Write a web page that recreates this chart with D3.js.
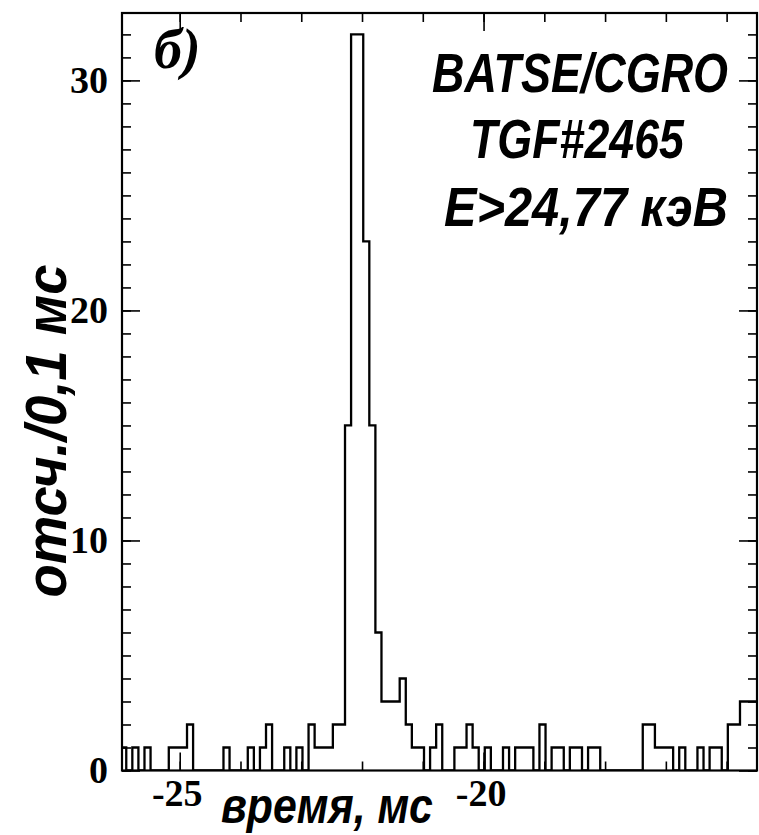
<!DOCTYPE html>
<html>
<head>
<meta charset="utf-8">
<script src="https://cdn.jsdelivr.net/npm/d3@7"></script>
<style>
  html, body { margin: 0; padding: 0; background: #fff; }
  svg { display: block; }
</style>
</head>
<body>
<svg id="chart" width="759" height="835"></svg>
<script>
// Histogram: counts per 0.1 ms bin, first bin starting at binStart (ms)
const binStart = -25.98;
const binWidth = 0.1;
const counts = [
  1, 0, 1, 0, 1, 0, 0, 0, 1, 1,
  1, 2, 0, 0, 0, 0, 0, 1, 0, 0,
  0, 1, 0, 1, 2, 0, 0, 1, 0, 1,
  0, 2, 1, 1, 1, 2, 2, 15, 32, 32,
  23, 15, 6, 3, 3, 3, 4, 2, 1, 1,
  0, 1, 2, 0, 0, 1, 1, 2, 1, 0,
  1, 0, 0, 1, 0, 1, 1, 1, 0, 2,
  0, 1, 1, 0, 1, 1, 0, 1, 1, 0,
  0, 0, 0, 0, 0, 0, 2, 2, 1, 1,
  1, 0, 1, 0, 0, 1, 0, 1, 1, 0,
  2, 2, 3, 3, 3
];

// Axis ticks
const xMinorTicks = [-25, -24, -23, -22, -21, -20, -19, -18, -17, -16];
const xMajorTicks = [-25, -20];
const yMinorTicks = d3.range(0, 33);
const yMajorTicks = [0, 10, 20, 30];

// Texts
const panelLabel = "б)";
const infoLines = ["BATSE/CGRO", "TGF#2465", "E>24,77 кэВ"];
const xTitle = "время, мс";
const yTitle = "отсч./0,1 мс";

const svg = d3.select("#chart");
const plot = { left: 122, right: 757, top: 13, bottom: 770.5 };

const x = d3.scaleLinear().domain([-25.95, -15.5]).range([plot.left, plot.right]);
const y = d3.scaleLinear().domain([0, 32.93]).range([plot.bottom, plot.top]);

svg.append("defs").append("clipPath").attr("id", "plotClip")
  .append("rect")
  .attr("x", plot.left).attr("y", plot.top - 2)
  .attr("width", plot.right - plot.left).attr("height", plot.bottom - plot.top + 2);

// Step outline of the histogram
const binEnd = binStart + binWidth * counts.length;
const pts = [[binStart, 0]];
counts.forEach((c, i) => pts.push([binStart + i * binWidth, c]));
pts.push([binEnd, counts[counts.length - 1]]);
pts.push([binEnd, 0]);

const line = d3.line()
  .x(d => x(d[0]))
  .y(d => y(d[1]))
  .curve(d3.curveStepAfter);

svg.append("path")
  .attr("clip-path", "url(#plotClip)")
  .attr("d", line(pts))
  .attr("fill", "none")
  .attr("stroke", "#000")
  .attr("stroke-width", 2.3)
  .attr("stroke-linejoin", "miter");

// Axes (inward ticks on all four sides)
function styleAxis(g) {
  g.select(".domain").remove();
  g.selectAll(".tick line").attr("stroke", "#000").attr("stroke-width", 1.6);
  g.selectAll(".tick text")
    .attr("fill", "#000")
    .attr("font-family", "'Liberation Serif', 'Times New Roman', serif")
    .attr("font-weight", "bold")
    .attr("font-size", 38);
}

svg.append("g").attr("transform", `translate(0,${plot.bottom})`)
  .call(d3.axisBottom(x).tickValues(xMinorTicks).tickSize(-9).tickFormat(""))
  .call(styleAxis);
svg.append("g").attr("transform", `translate(0,${plot.bottom})`)
  .call(d3.axisBottom(x).tickValues(xMajorTicks).tickSize(-18).tickPadding(9)
    .tickFormat(d => String(d)))
  .call(styleAxis)
  .call(g => g.selectAll(".tick text").attr("dx", -3));

svg.append("g").attr("transform", `translate(0,${plot.top})`)
  .call(d3.axisTop(x).tickValues(xMinorTicks).tickSize(-9).tickFormat(""))
  .call(styleAxis);
svg.append("g").attr("transform", `translate(0,${plot.top})`)
  .call(d3.axisTop(x).tickValues(xMajorTicks).tickSize(-18).tickFormat(""))
  .call(styleAxis);

svg.append("g").attr("transform", `translate(${plot.left},0)`)
  .call(d3.axisLeft(y).tickValues(yMinorTicks).tickSize(-9).tickFormat(""))
  .call(styleAxis);
svg.append("g").attr("transform", `translate(${plot.left},0)`)
  .call(d3.axisLeft(y).tickValues(yMajorTicks).tickSize(-18).tickPadding(14)
    .tickFormat(d => String(d)))
  .call(styleAxis);

svg.append("g").attr("transform", `translate(${plot.right},0)`)
  .call(d3.axisRight(y).tickValues(yMinorTicks).tickSize(-9).tickFormat(""))
  .call(styleAxis);
svg.append("g").attr("transform", `translate(${plot.right},0)`)
  .call(d3.axisRight(y).tickValues(yMajorTicks).tickSize(-18).tickFormat(""))
  .call(styleAxis);

// Frame
svg.append("rect")
  .attr("x", plot.left).attr("y", plot.top)
  .attr("width", plot.right - plot.left).attr("height", plot.bottom - plot.top)
  .attr("fill", "none").attr("stroke", "#000").attr("stroke-width", 2.2);

// Condensed bold-italic text: natural glyphs squeezed horizontally to a target width
const sansNarrow = "'Liberation Sans Narrow', 'Arial Narrow', 'Liberation Sans', Arial, sans-serif";
function narrowText(str, px, py, size, width, opts = {}) {
  const g = svg.append("g");
  const t = g.append("text")
    .attr("font-family", sansNarrow).attr("font-weight", "bold").attr("font-style", "italic")
    .attr("font-size", size)
    .attr("text-anchor", opts.anchor || "start")
    .text(str);
  const natural = t.node().getComputedTextLength();
  const k = width / natural;
  const rot = opts.rotate ? ` rotate(${opts.rotate})` : "";
  g.attr("transform", `translate(${px},${py})${rot} scale(${k},1)`);
  return g;
}

narrowText(xTitle, 221, 823, 50, 212);
narrowText(yTitle, 66, 431, 57, 333, { anchor: "middle", rotate: -90 });

svg.append("text")
  .attr("x", 154).attr("y", 68)
  .attr("font-family", "'Liberation Serif', 'Times New Roman', serif")
  .attr("font-weight", "bold").attr("font-style", "italic")
  .attr("font-size", 56)
  .text(panelLabel);

const infoLayout = [
  { x: 432, y: 92, len: 296 },
  { x: 470, y: 158, len: 214 },
  { x: 444, y: 226, len: 284 }
];
infoLines.forEach((t, i) => {
  narrowText(t, infoLayout[i].x, infoLayout[i].y, 56, infoLayout[i].len);
});
</script>
</body>
</html>
